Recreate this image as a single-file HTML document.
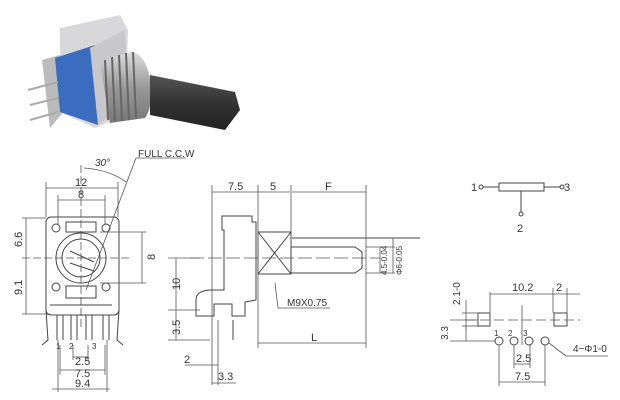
<!DOCTYPE html>
<html><head><meta charset="utf-8"><style>
body{margin:0;background:#fff}
svg{display:block}
text{font-family:"Liberation Sans",sans-serif;fill:#333}
</style></head><body>
<svg width="620" height="400" viewBox="0 0 620 400" xmlns="http://www.w3.org/2000/svg">
<defs>
<linearGradient id="met" x1="0" y1="0" x2="0" y2="1"><stop offset="0" stop-color="#ddd"/><stop offset=".5" stop-color="#999"/><stop offset="1" stop-color="#777"/></linearGradient>
<linearGradient id="sh" x1="0" y1="0" x2="0" y2="1"><stop offset="0" stop-color="#555"/><stop offset=".5" stop-color="#333"/><stop offset="1" stop-color="#222"/></linearGradient>
</defs>
<!-- photo -->
<polygon points="60,28 120,15 128,30 125,115 95,128 60,112" fill="#d8d8da"/>
<polygon points="42,60 60,55 65,110 50,128" fill="#bbb"/>
<polygon points="55,58 95,45 98,125 60,112" fill="#3a6cc0"/>
<polygon points="90,48 125,30 128,100 98,125" fill="#c8c8cc"/>
<path d="M100,62 L130,52 C150,50 158,100 145,118 L110,123 Z" fill="url(#met)"/>
<g stroke="#666" stroke-width="2"><line x1="105" y1="60" x2="108" y2="120"/><line x1="112" y1="57" x2="115" y2="121"/><line x1="119" y1="55" x2="122" y2="121"/><line x1="126" y1="53" x2="129" y2="120"/><line x1="133" y1="52" x2="136" y2="118"/></g>
<polygon points="150,75 235,92 240,110 225,130 150,115" fill="url(#sh)"/>
<g stroke="#aaa" stroke-width="2"><line x1="28" y1="90" x2="58" y2="82"/><line x1="30" y1="105" x2="58" y2="98"/><line x1="30" y1="120" x2="58" y2="112"/></g>
<!-- front view -->
<g fill="none" stroke="#444" stroke-width="1">
<rect x="46" y="217" width="73" height="98" rx="5"/>
<circle cx="81" cy="258" r="25"/><circle cx="81" cy="258" r="19"/>
<line x1="70" y1="251" x2="94" y2="262"/><line x1="70" y1="263" x2="94" y2="271"/>
<circle cx="56" cy="228" r="4"/><circle cx="106" cy="228" r="4"/><circle cx="56" cy="287" r="4"/><circle cx="106" cy="287" r="4"/>
<rect x="66" y="222" width="30" height="10"/><rect x="66" y="286" width="30" height="12"/>
<path d="M50,305 L112,305 M57,315 v25 M63,315 v25 M71,315 v25 M77,315 v25 M86,315 v25 M92,315 v25 M103,315 v25 M109,315 v25"/>
<path d="M46,310 L48,340 L42,345 M119,310 L117,340 L123,345"/>
<g stroke="#555" stroke-width=".8">
<line x1="46" y1="188" x2="118" y2="188"/><line x1="58" y1="200" x2="105" y2="200"/>
<line x1="46" y1="182" x2="46" y2="217"/><line x1="118" y1="182" x2="118" y2="217"/>
<line x1="58" y1="195" x2="58" y2="225"/><line x1="105" y1="195" x2="105" y2="225"/>
<line x1="22" y1="218" x2="46" y2="218"/><line x1="22" y1="258" x2="130" y2="258" stroke-dasharray="8,3"/><line x1="22" y1="314" x2="50" y2="314"/>
<line x1="26" y1="218" x2="26" y2="314"/>
<line x1="100" y1="232" x2="146" y2="232"/><line x1="100" y1="283" x2="146" y2="283"/><line x1="142" y1="232" x2="142" y2="283"/>
<line x1="81" y1="165" x2="81" y2="330" stroke-dasharray="8,3"/>
<line x1="86" y1="290" x2="136" y2="158"/><line x1="136" y1="158" x2="186" y2="158"/>
<path d="M84,168 Q110,170 126,182"/>
<line x1="58" y1="340" x2="58" y2="392"/><line x1="107" y1="340" x2="107" y2="392"/><line x1="60" y1="345" x2="60" y2="375"/><line x1="105" y1="345" x2="105" y2="375"/><line x1="73" y1="345" x2="73" y2="360"/><line x1="88" y1="345" x2="88" y2="360"/>
<line x1="73" y1="357" x2="88" y2="357"/><line x1="60" y1="370" x2="105" y2="370"/><line x1="52" y1="389" x2="110" y2="389"/>
</g></g>
<g font-size="11"><text x="75" y="186">12</text><text x="78" y="198">8</text><text x="95" y="166" font-style="italic" font-size="10">30°</text><text x="138" y="157" font-size="10">FULL C.C.W</text>
<text x="75" y="365">2.5</text><text x="75" y="377">7.5</text><text x="75" y="387">9.4</text>
<text x="56" y="349" font-size="8">1</text><text x="69" y="349" font-size="8">2</text><text x="92" y="349" font-size="8">3</text>
<text transform="translate(22,247) rotate(-90)">6.6</text><text transform="translate(22,295) rotate(-90)">9.1</text><text transform="translate(155,260) rotate(-90)">8</text></g>
<!-- side view -->
<g fill="none" stroke="#444" stroke-width="1">
<path d="M222,216 L252,216 L252,222 L256,222 L256,300 L245,302 L245,316 L232,316 L232,304 L214,304 L214,316 L196,316 L196,300 Q196,290 212,290 L224,290 L224,230 L222,230 Z"/>
<rect x="258" y="232" width="33" height="42"/><line x1="258" y1="232" x2="291" y2="274"/><line x1="291" y1="232" x2="258" y2="274"/>
<path d="M291,247 L355,247 L362,252 L362,268 L355,273 L291,273"/>
<line x1="292" y1="238" x2="420" y2="238"/>
<line x1="233" y1="320" x2="233" y2="340"/>
<g stroke="#555" stroke-width=".8">
<line x1="212" y1="185" x2="212" y2="385"/><line x1="258" y1="185" x2="258" y2="348"/><line x1="291" y1="185" x2="291" y2="232"/><line x1="366" y1="185" x2="366" y2="348"/>
<line x1="212" y1="192" x2="290" y2="192"/><line x1="292" y1="192" x2="366" y2="192"/><line x1="258" y1="343" x2="366" y2="343"/>
<line x1="190" y1="258" x2="380" y2="258" stroke-dasharray="14,4"/>
<line x1="168" y1="258" x2="200" y2="258"/><line x1="168" y1="310" x2="200" y2="310"/><line x1="168" y1="340" x2="210" y2="340"/><line x1="176" y1="258" x2="176" y2="340"/>
<line x1="185" y1="365" x2="218" y2="365"/><line x1="218" y1="320" x2="218" y2="385"/><line x1="212" y1="383" x2="236" y2="383"/>
<line x1="275" y1="283" x2="278" y2="308"/><line x1="278" y1="308" x2="330" y2="308"/>
<line x1="366" y1="247" x2="395" y2="247"/><line x1="366" y1="273" x2="395" y2="273"/><line x1="380" y1="247" x2="380" y2="273"/><line x1="393" y1="238" x2="393" y2="273"/>
</g></g>
<g font-size="11"><text x="228" y="190">7.5</text><text x="270" y="190">5</text><text x="325" y="190">F</text><text x="311" y="341">L</text>
<text x="287" y="306" font-size="10">M9X0.75</text><text x="184" y="363">2</text><text x="218" y="380">3.3</text>
<text transform="translate(180,290) rotate(-90)">10</text><text transform="translate(180,335) rotate(-90)">3.5</text>
<text transform="translate(387,275) rotate(-90)" font-size="8">4.5-0.04</text><text transform="translate(402,275) rotate(-90)" font-size="8">Φ6-0.05</text></g>
<!-- schematic -->
<g fill="none" stroke="#444" stroke-width="1">
<circle cx="481" cy="187" r="2"/><line x1="483" y1="187" x2="499" y2="187"/>
<rect x="499" y="183" width="45" height="8"/><line x1="544" y1="187" x2="560" y2="187"/><circle cx="562" cy="187" r="2"/>
<line x1="521" y1="191" x2="521" y2="212"/><circle cx="521" cy="214" r="2"/>
<!-- footprint -->
<rect x="478" y="313" width="12" height="13"/><rect x="554" y="313" width="13" height="13"/>
<circle cx="499" cy="341" r="4"/><circle cx="514" cy="341" r="4"/><circle cx="529" cy="341" r="4"/><circle cx="545" cy="341" r="4"/>
<g stroke="#555" stroke-width=".8">
<line x1="490" y1="292" x2="490" y2="326"/><line x1="553" y1="288" x2="553" y2="313"/><line x1="567" y1="288" x2="567" y2="313"/>
<line x1="490" y1="294" x2="553" y2="294"/><line x1="553" y1="294" x2="580" y2="294"/>
<line x1="466" y1="320" x2="580" y2="320" stroke-dasharray="10,4"/><line x1="522" y1="305" x2="522" y2="345"/>
<line x1="450" y1="341" x2="495" y2="341"/><line x1="466" y1="326" x2="466" y2="341"/><line x1="450" y1="320" x2="478" y2="320"/>
<line x1="466" y1="300" x2="466" y2="330"/><line x1="462" y1="313" x2="478" y2="313"/><line x1="462" y1="326" x2="478" y2="326"/>
<line x1="499" y1="345" x2="499" y2="386"/><line x1="545" y1="345" x2="545" y2="386"/><line x1="514" y1="345" x2="514" y2="368"/><line x1="530" y1="345" x2="530" y2="368"/>
<line x1="514" y1="364" x2="530" y2="364"/><line x1="499" y1="382" x2="545" y2="382"/>
<line x1="549" y1="343" x2="566" y2="356"/><line x1="566" y1="356" x2="608" y2="356"/>
</g></g>
<g font-size="11"><text x="471" y="191">1</text><text x="564" y="191">3</text><text x="517" y="232">2</text>
<text x="512" y="291">10.2</text><text x="556" y="291">2</text><text x="516" y="362">2.5</text><text x="515" y="380">7.5</text>
<text x="573" y="352" font-size="10">4−Φ1-0</text><text x="494" y="336" font-size="8">1</text><text x="508" y="336" font-size="8">2</text><text x="523" y="336" font-size="8">3</text>
<text transform="translate(460,305) rotate(-90)" font-size="10">2.1-0</text><text transform="translate(448,340) rotate(-90)" font-size="10">3.3</text></g>
</svg>
</body></html>
